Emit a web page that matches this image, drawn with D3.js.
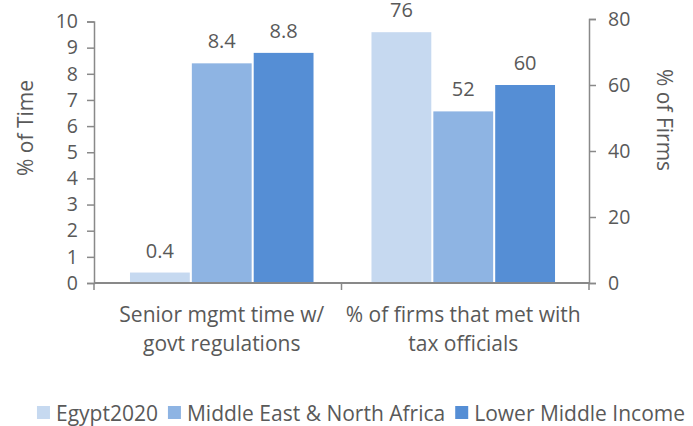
<!DOCTYPE html>
<html>
<head>
<meta charset="utf-8">
<script src="https://cdn.jsdelivr.net/npm/d3@7"></script>
<style>
  body { margin: 0; background: #fff; }
  text { font-family: "Open Sans", sans-serif; fill: #595959; }
</style>
</head>
<body>
<div id="chart"></div>
<script>
// data
const categories = ["Senior mgmt time w/ govt regulations", "% of firms that met with tax officials"];
const categoryLines = [["Senior mgmt time w/", "govt regulations"], ["% of firms that met with", "tax officials"]];
const seriesNames = ["Egypt2020", "Middle East & North Africa", "Lower Middle Income"];
const seriesColors = ["#c6d9f0", "#8eb4e3", "#558ed5"];
const timeValues = [0.4, 8.4, 8.8];   // left axis, % of Time
const firmValues = [76, 52, 60];      // right axis, % of Firms
const leftTicks = [0, 1, 2, 3, 4, 5, 6, 7, 8, 9, 10];
const rightTicks = [0, 20, 40, 60, 80];

const W = 693, H = 426;
const axisColor = "#898989";

const svg = d3.select("#chart")
  .append("svg")
    .attr("width", W)
    .attr("height", H);

// scales
const xAxisScale = d3.scaleBand().domain(categories).range([94, 589]);
const x0 = d3.scaleBand().domain(categories).range([101, 584])
    .paddingInner(0.24).paddingOuter(0.12);
const x1 = d3.scaleBand().domain(seriesNames).range([0, x0.bandwidth()])
    .paddingInner(0.033);
const yLeft = d3.scaleLinear().domain([0, 10]).range([283, 21.5]);
const yRight = d3.scaleLinear().domain([0, 80]).range([283, 19]);

// bars: first group on the left axis, second on the right axis
const groups = [
  {cat: categories[0], values: timeValues, y: yLeft},
  {cat: categories[1], values: firmValues, y: yRight}
];

groups.forEach(function(g) {
  const gg = svg.append("g").attr("transform", `translate(${x0(g.cat)},0)`);
  gg.selectAll("rect")
    .data(g.values)
    .join("rect")
      .attr("x", (d, i) => x1(seriesNames[i]))
      .attr("width", x1.bandwidth())
      .attr("y", d => g.y(d))
      .attr("height", d => g.y(0) - g.y(d))
      .style("fill", (d, i) => seriesColors[i]);
  // value labels
  gg.selectAll("text")
    .data(g.values)
    .join("text")
      .attr("x", (d, i) => x1(seriesNames[i]) + x1.bandwidth() / 2)
      .attr("y", d => g.y(d) - 15)
      .attr("text-anchor", "middle")
      .style("font-size", "20px")
      .text(d => d);
});

// left axis
const leftAxis = svg.append("g")
    .attr("transform", `translate(${xAxisScale.range()[0]},0)`)
    .call(d3.axisLeft(yLeft).tickValues(leftTicks).tickSizeOuter(0).tickSize(7).tickPadding(9));

// right axis
const rightAxis = svg.append("g")
    .attr("transform", `translate(${xAxisScale.range()[1]},0)`)
    .call(d3.axisRight(yRight).tickValues(rightTicks).tickSizeOuter(0).tickSize(7).tickPadding(12));

[leftAxis, rightAxis].forEach(function(a) {
  a.select(".domain").attr("stroke", axisColor).attr("stroke-width", 1.5);
  a.selectAll(".tick line").attr("stroke", axisColor).attr("stroke-width", 1.5);
  a.selectAll(".tick text").style("font-size", "19.5px").style("font-family", "Open Sans").attr("fill", "#595959");
});

// bottom axis line and category ticks
const xr = xAxisScale.range();
svg.append("line")
    .attr("x1", xr[0]).attr("x2", xr[1])
    .attr("y1", yLeft(0)).attr("y2", yLeft(0))
    .attr("stroke", axisColor).attr("stroke-width", 2);
svg.selectAll(".xtick")
  .data([xr[0], xAxisScale(categories[1]), xr[1]])
  .join("line")
    .attr("class", "xtick")
    .attr("x1", d => d).attr("x2", d => d)
    .attr("y1", yLeft(0)).attr("y2", yLeft(0) + 7)
    .attr("stroke", axisColor).attr("stroke-width", 1.5);

// category labels (two lines each)
categories.forEach(function(c, i) {
  const t = svg.append("text")
      .attr("text-anchor", "middle")
      .style("font-size", "21px");
  categoryLines[i].forEach(function(line, j) {
    t.append("tspan")
      .attr("x", x0(c) + x0.bandwidth() / 2)
      .attr("y", 322 + j * 29)
      .text(line);
  });
});

// axis titles
svg.append("text")
    .attr("transform", "translate(33,128) rotate(-90)")
    .attr("text-anchor", "middle")
    .style("font-size", "21px")
    .text("% of Time");

svg.append("text")
    .attr("transform", "translate(657,120) rotate(90)")
    .attr("text-anchor", "middle")
    .style("font-size", "21px")
    .text("% of Firms");

// legend, centred under the plot
const legend = svg.append("g");
let lx = 0;
seriesNames.forEach(function(name, i) {
  legend.append("rect")
      .attr("x", lx).attr("y", -7)
      .attr("width", 13).attr("height", 13)
      .style("fill", seriesColors[i]);
  const t = legend.append("text")
      .attr("x", lx + 19)
      .attr("y", 7.5)
      .style("font-size", "21px")
      .text(name);
  lx += 19 + t.node().getComputedTextLength() + 10;
});
legend.attr("transform", `translate(${361 - (lx - 10) / 2},413)`);
</script>
</body>
</html>
